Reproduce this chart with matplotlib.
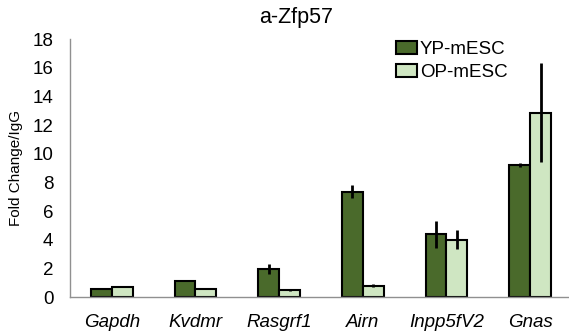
import matplotlib
matplotlib.use("Agg")
import matplotlib.pyplot as plt
import numpy as np

plt.rcParams['font.family'] = ['Liberation Sans', 'DejaVu Sans']

genes = ["Gapdh", "Kvdmr", "Rasgrf1", "Airn", "Inpp5fV2", "Gnas"]
yp_mean = [0.55, 1.14, 1.95, 7.35, 4.37, 9.2]
yp_err = [0.0, 0.0, 0.35, 0.43, 0.93, 0.15]
op_mean = [0.72, 0.54, 0.49, 0.79, 3.98, 12.86]
op_err = [0.0, 0.0, 0.1, 0.1, 0.66, 3.44]

dark_green = "#4a6a2b"
light_green = "#cfe6c2"

fig = plt.figure(figsize=(5.69, 3.34), dpi=100)
ax = fig.add_axes([70 / 569, 37 / 334, 1 - 70 / 569, 258 / 334])

x = np.arange(len(genes))
w = 0.25
err_kw = dict(ecolor="black", elinewidth=2, capsize=0)
ax.bar(x - w / 2, yp_mean, w, yerr=yp_err, color=dark_green, edgecolor="black",
       linewidth=1.5, error_kw=err_kw, label="YP-mESC", zorder=2)
ax.bar(x + w / 2, op_mean, w, yerr=op_err, color=light_green, edgecolor="black",
       linewidth=1.5, error_kw=err_kw, label="OP-mESC", zorder=2)

ax.set_ylim(0, 18)
ax.set_yticks(range(0, 19, 2))
ax.set_xlim(-0.5, 5.465)
ax.set_xticks(x)
ax.set_xticklabels(genes, fontstyle="italic")
ax.tick_params(axis="both", length=0, labelsize=13.5)
ax.tick_params(axis="y", pad=12)
ax.tick_params(axis="x", pad=12)

for side in ["top", "right"]:
    ax.spines[side].set_visible(False)
for side in ["left", "bottom"]:
    ax.spines[side].set_color("#909090")
    ax.spines[side].set_linewidth(1)

ax.set_ylabel("Fold Change/IgG", fontsize=11, labelpad=7)
fig.text(296 / 569, 1 - 18 / 334, "a-Zfp57", fontsize=15.5, ha="center", va="center")

ax.legend(loc="upper left", bbox_to_anchor=(0.635, 1.03), frameon=False,
          fontsize=13.5, handlelength=1.1, handleheight=0.75, handletextpad=0.15,
          labelspacing=0.3, borderpad=0)

fig.savefig("out.png", dpi=100)
